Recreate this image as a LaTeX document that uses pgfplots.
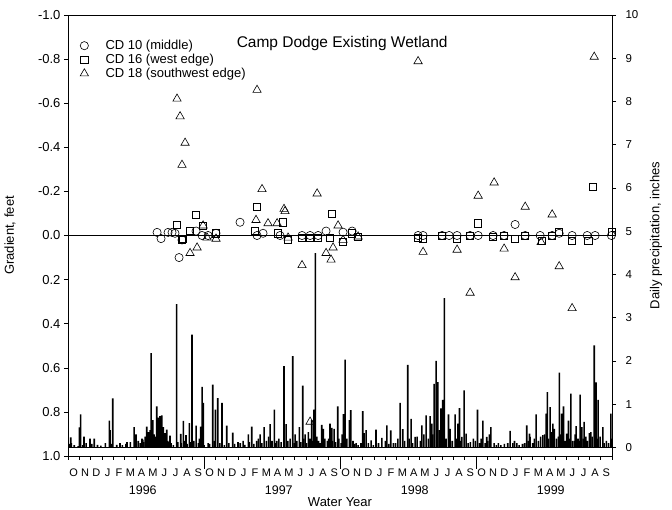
\documentclass[border=0pt]{standalone}
\usepackage{fontspec}
\setmainfont{Liberation Sans}
\usepackage{pgfplots}
\pgfplotsset{compat=1.18}

% daily precipitation, x in months since 1 Oct 1995
\pgfplotstableread{
x p
0.24 0.23
1.00 0.46
1.12 0.76
1.41 0.25
1.94 0.20
2.32 0.20
3.65 0.62
3.71 0.40
3.95 1.13
4.59 0.10
5.21 0.12
5.83 0.47
6.00 0.30
6.53 0.20
6.80 0.25
6.95 0.48
7.09 0.35
7.24 0.40
7.33 2.18
7.48 0.63
7.59 0.30
7.83 0.95
7.97 0.69
8.12 0.72
8.27 0.74
8.41 0.47
8.56 0.33
8.71 0.41
9.00 0.27
9.59 3.31
9.95 0.31
10.18 0.61
10.41 0.28
10.71 0.56
10.94 2.61
11.30 0.50
11.71 0.48
11.83 1.40
11.94 1.03
12.36 0.10
12.77 1.45
13.00 0.87
13.21 1.14
13.59 1.03
14.01 0.50
14.54 0.34
15.00 0.12
15.45 0.15
15.91 0.30
16.21 0.48
16.65 0.15
16.95 0.30
17.30 0.47
17.83 0.54
18.21 0.87
18.42 0.15
19.06 1.88
19.24 0.54
19.83 2.11
20.04 0.30
20.41 0.47
20.71 1.43
20.92 0.30
21.21 0.35
21.51 0.63
21.71 0.87
21.83 4.49
22.39 0.52
22.53 0.43
23.12 0.55
23.27 0.45
23.48 0.43
23.80 0.95
24.30 0.77
24.45 2.03
24.83 0.63
24.95 0.86
25.15 0.15
25.42 0.10
26.01 0.84
26.13 0.33
26.30 0.40
26.74 0.16
27.18 0.41
27.69 0.22
28.13 0.51
28.48 0.39
28.71 0.10
29.30 1.03
29.54 0.42
29.98 1.91
30.27 0.66
30.63 0.24
31.22 0.51
31.60 0.74
31.95 0.72
32.10 0.55
32.30 1.47
32.48 2.00
32.63 1.51
32.90 0.90
33.07 1.10
33.21 3.45
33.57 0.76
33.72 0.43
34.16 0.76
34.40 0.55
34.54 0.91
34.75 0.24
34.95 1.32
35.13 0.32
35.77 0.20
36.13 0.87
36.60 0.62
36.95 0.24
37.18 0.30
37.31 0.47
37.98 0.10
39.01 0.38
39.25 0.10
39.60 0.10
40.48 0.51
40.72 0.32
40.78 0.24
41.31 0.76
41.90 0.28
42.19 0.78
42.30 1.28
42.54 0.93
42.78 0.55
42.92 0.43
43.27 0.25
43.36 1.73
43.57 0.78
43.72 0.95
44.01 0.32
44.16 0.62
44.37 1.24
44.66 0.15
44.84 0.49
45.19 1.22
45.34 0.47
45.54 0.59
46.01 0.33
46.13 0.35
46.43 2.36
46.60 1.50
46.78 1.10
47.19 0.47
47.90 0.78
}\bigrain

\pgfplotstableread{
x p
0.10 0.08
0.30 0.10
0.55 0.05
0.90 0.03
1.30 0.05
1.60 0.10
2.10 0.08
2.60 0.06
2.90 0.04
3.30 0.10
3.80 0.08
4.30 0.06
4.80 0.05
5.10 0.08
5.50 0.12
6.20 0.15
6.40 0.10
6.60 0.18
6.70 0.12
7.00 0.20
7.15 0.15
7.70 0.25
7.90 0.20
8.05 0.30
8.35 0.20
8.80 0.15
8.90 0.12
9.10 0.10
9.30 0.05
9.70 0.12
10.00 0.10
10.30 0.15
10.50 0.08
10.85 0.12
11.10 0.15
11.50 0.10
11.60 0.20
12.00 0.05
12.50 0.08
12.90 0.15
13.40 0.10
13.80 0.05
14.20 0.10
14.70 0.08
15.20 0.10
15.60 0.06
16.00 0.12
16.40 0.08
16.80 0.20
17.10 0.10
17.50 0.15
17.70 0.25
18.00 0.15
18.30 0.10
18.60 0.20
18.80 0.12
19.40 0.15
19.60 0.20
19.95 0.10
20.20 0.15
20.55 0.12
20.80 0.20
21.05 0.10
21.35 0.20
21.60 0.15
21.95 0.25
22.10 0.15
22.25 0.10
22.65 0.20
22.90 0.15
23.00 0.20
23.35 0.15
23.60 0.12
23.90 0.20
24.10 0.10
24.20 0.30
24.60 0.20
25.30 0.08
25.60 0.05
25.85 0.10
26.50 0.10
26.95 0.05
27.40 0.10
28.00 0.15
28.30 0.08
28.90 0.10
29.10 0.20
29.70 0.15
30.10 0.20
30.40 0.10
30.80 0.25
31.10 0.15
31.40 0.30
31.80 0.20
32.20 0.30
32.75 0.40
33.35 0.20
33.90 0.15
34.30 0.20
34.65 0.15
35.30 0.10
35.50 0.12
35.95 0.15
36.30 0.10
36.45 0.20
36.80 0.10
37.05 0.15
37.60 0.10
37.80 0.05
38.20 0.05
38.50 0.08
38.80 0.10
39.40 0.15
39.80 0.05
40.10 0.08
40.30 0.10
40.60 0.15
41.00 0.10
41.15 0.20
41.50 0.15
41.70 0.25
42.05 0.30
42.40 0.20
42.65 0.35
43.10 0.20
43.45 0.30
43.85 0.15
44.05 0.25
44.25 0.20
44.50 0.15
44.75 0.30
45.00 0.20
45.10 0.15
45.45 0.20
45.70 0.25
45.85 0.15
46.25 0.25
46.50 0.30
46.70 0.20
46.95 0.25
47.30 0.10
47.50 0.15
47.70 0.10
47.95 0.20
}\smallrain

\pgfplotsset{
  every axis/.append style={
    scale only axis, width=544pt, height=441pt,
    at={(0pt,0pt)}, anchor=south west,
    xmin=0, xmax=48,
    tick align=outside,
    major tick length=4pt, minor tick length=3.5pt,
    /pgf/number format/assume math mode=true,
    tick label style={font=\fontsize{11.5}{13}\selectfont},
    label style={font=\fontsize{13}{15}\selectfont},
    axis line style={line width=0.7pt},
    tick style={black, line width=0.6pt},
  }
}

\begin{document}
\begin{tikzpicture}
\useasboundingbox (-68pt,-54pt) rectangle (604pt,456pt);

% gradients, left axis
\begin{axis}[
  clip=false,
  y dir=reverse, ymin=-1, ymax=1,
  ytick={-1,-0.8,-0.6,-0.4,-0.2,0,0.2,0.4,0.6,0.8,1},
  yticklabel={\fontsize{13}{15}\selectfont\pgfmathprintnumber[fixed, fixed zerofill, precision=1]{\tick}},
  ytick pos=left, xtick pos=bottom,
  xtick={0.5,1.5,...,47.5},
  xticklabels={O,N,D,J,F,M,A,M,J,J,A,S,O,N,D,J,F,M,A,M,J,J,A,S,O,N,D,J,F,M,A,M,J,J,A,S,O,N,D,J,F,M,A,M,J,J,A,S},
  xticklabel style={font=\fontsize{11}{12}\selectfont, yshift=-5pt},
  major x tick style={draw=none},
  minor xtick={0,1,...,48},
  ylabel={Gradient, feet},
  ylabel style={at={(axis description cs:-0.1066,0.5)}, anchor=center},
  xlabel={Water Year},
  xlabel style={at={(axis description cs:0.5,-0.1043)}, anchor=center},
  legend style={at={(axis description cs:0,1)}, anchor=north west, xshift=9pt, yshift=-21pt,
    draw=none, fill=none, font=\fontsize{13}{15}\selectfont, row sep=-1pt},
  legend cell align=left,
  mark options={solid, line width=0.6pt},
]
\addplot[only marks, mark=o, mark size=4.1pt] coordinates {
(7.86,-0.014)(8.21,0.014)(8.83,-0.014)(9.18,-0.014)(9.44,-0.01)(9.80,0.10)(10.06,0.02)
(11.30,-0.02)(11.83,0.0)(12.36,0.0)(13.06,-0.01)(15.18,-0.06)(16.68,0.0)(17.21,-0.01)
(18.71,0.0)(20.65,0.0)(21.36,0.0)(22.07,0.0)(22.77,-0.02)(24.27,-0.015)(25.07,-0.02)
(30.89,0)(31.33,0)(33.01,0)(33.63,0)(34.33,0)(35.48,0)(36.19,0)(37.51,0)(38.48,0)
(39.45,-0.05)(40.34,0)(41.66,0)(42.72,0)(43.34,-0.01)(44.48,0)(45.81,0)(46.51,0)(47.95,0)
};
\addlegendentry{\hspace*{15pt}CD 10 (middle)}
\addplot[only marks, mark=square, mark size=3.6pt] coordinates {
(9.62,-0.05)(10.06,0.02)(10.15,0.015)(10.77,-0.02)(11.30,-0.095)(11.92,-0.045)(13.06,-0.01)
(16.50,-0.02)(16.68,-0.13)(18.53,-0.01)(18.98,-0.06)(19.42,0.02)(20.65,0.01)(21.36,0.01)
(22.07,0.01)(23.12,0.01)(23.30,-0.10)(24.27,0.03)(25.07,-0.01)(25.60,0.005)
(30.89,0.01)(31.33,0.015)(33.01,0.0)(34.33,0.015)(35.48,0.0)(36.19,-0.055)(37.51,0.005)
(38.48,0.0)(39.45,0.015)(40.34,0)(41.84,0.025)(42.72,0)(43.34,-0.015)(44.48,0.025)
(45.90,0.025)(46.34,-0.22)(47.95,-0.015)
};
\addlegendentry{\hspace*{15pt}CD 16 (west edge)}
\addplot[only marks, mark=triangle, mark size=4.8pt] coordinates {
(9.62,-0.62)(9.89,-0.54)(10.33,-0.42)(10.06,-0.32)(10.77,0.08)(11.39,0.055)(11.92,-0.045)
(12.27,0.01)(13.06,0.015)(16.59,-0.07)(16.68,-0.66)(17.12,-0.21)(17.65,-0.055)(18.45,-0.055)
(19.06,-0.12)(19.15,-0.11)(19.42,0.01)(20.65,0.135)(21.36,0.845)(21.98,-0.19)(22.77,0.08)
(23.21,0.11)(23.39,0.055)(23.83,-0.045)(24.27,0.02)(25.60,0.005)
(30.89,-0.79)(31.33,0.075)(34.33,0.065)(35.48,0.26)(36.19,-0.18)(37.60,-0.24)(38.48,0.06)
(39.45,0.19)(40.34,-0.13)(41.75,0.03)(42.72,-0.095)(43.34,0.14)(44.48,0.33)(46.43,-0.81)
};
\addlegendentry{\hspace*{15pt}CD 18 (southwest edge)}
\addplot[black, line width=0.8pt, forget plot] coordinates {(0,0)(48,0)};

\node[font=\fontsize{15.5}{18}\selectfont] at (axis description cs:0.504,0.935) {Camp Dodge Existing Wetland};
\node[font=\fontsize{12.5}{15}\selectfont] at (axis description cs:0.1375,-0.0771) {1996};
\node[font=\fontsize{12.5}{15}\selectfont] at (axis description cs:0.3875,-0.0771) {1997};
\node[font=\fontsize{12.5}{15}\selectfont] at (axis description cs:0.6375,-0.0771) {1998};
\node[font=\fontsize{12.5}{15}\selectfont] at (axis description cs:0.8875,-0.0771) {1999};
\end{axis}

% precipitation, right axis
\begin{axis}[
  axis y line*=right, axis x line=none,
  ymin=-0.2, ymax=10, ytick={0,1,...,10},
  yticklabel style={xshift=6pt},
  ylabel={Daily precipitation, inches},
  ylabel style={at={(axis description cs:1.081,0.5)}, anchor=center},
]
\addplot[ybar, bar width=1.6pt, fill=black, draw=none] table[x=x, y=p] {\bigrain};
\addplot[ybar, bar width=1.6pt, fill=black, draw=none] table[x=x, y=p] {\smallrain};
\addplot[black, line width=0.6pt] coordinates {(0,0)(48,0)};
\end{axis}

% water-year separators below the bottom axis (plot box starts at the origin, 136pt per year)
\draw[black, line width=0.8pt] (136pt,0pt) -- (136pt,-13pt);
\draw[black, line width=0.8pt] (272pt,0pt) -- (272pt,-13pt);
\draw[black, line width=0.8pt] (408pt,0pt) -- (408pt,-13pt);
\end{tikzpicture}
\end{document}
